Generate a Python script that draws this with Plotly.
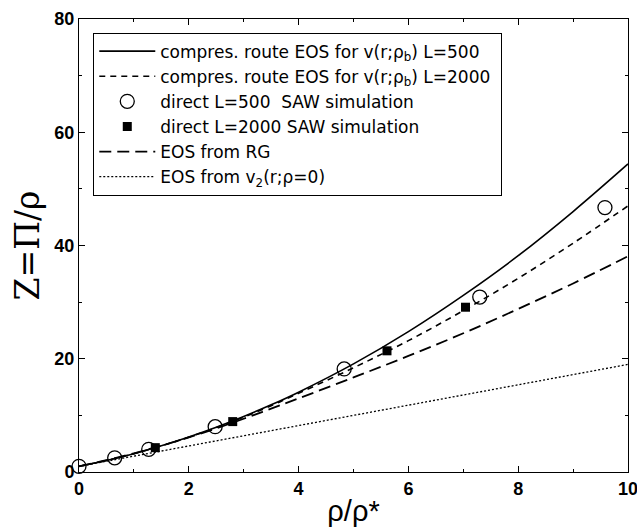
import plotly.graph_objects as go

# curves
rho_grid = [0, 0.5, 1, 1.5, 2, 2.5, 3, 3.5, 4, 5, 6, 7, 8, 9, 10]
z_l500 = [1.0, 2.04, 3.24, 4.62, 6.18, 7.90, 9.80, 11.86, 14.1, 19.1, 24.8, 31.2, 38.2, 46.0, 54.4]
z_l2000 = [1.0, 2.04, 3.24, 4.62, 6.15, 7.85, 9.7, 11.7, 13.9, 18.4, 23.2, 28.5, 34.2, 40.4, 47.0]
z_rg = [1.0, 2.1, 3.3, 4.65, 6.1, 7.7, 9.4, 11.2, 13.0, 16.7, 20.5, 24.5, 28.8, 33.3, 38.1]
rho_v2 = [0, 10]
z_v2 = [1.0, 19.0]

# simulations
rho_saw500 = [0, 0.65, 1.27, 2.48, 4.83, 7.30, 9.58]
z_saw500 = [1.0, 2.5, 4.0, 8.0, 18.2, 30.9, 46.7]
rho_saw2000 = [1.39, 2.80, 5.61, 7.04]
z_saw2000 = [4.3, 8.9, 21.4, 29.1]

names = [
    "compres. route EOS for v(r;ρ<sub>b</sub>) L=500",
    "compres. route EOS for v(r;ρ<sub>b</sub>) L=2000\u00a0",
    "direct L=500\u00a0 SAW simulation",
    "direct L=2000 SAW simulation",
    "EOS from RG",
    "EOS from v<sub>2</sub>(r;ρ=0)",
]

fig = go.Figure()
fig.add_trace(go.Scatter(x=rho_grid, y=z_l500, mode="lines", name=names[0],
                         line=dict(color="black", width=1.6, shape="spline")))
fig.add_trace(go.Scatter(x=rho_grid, y=z_l2000, mode="lines", name=names[1],
                         line=dict(color="black", width=1.6, dash="6px,5px", shape="spline")))
fig.add_trace(go.Scatter(x=rho_saw500, y=z_saw500, mode="markers", name=names[2],
                         cliponaxis=False,
                         marker=dict(symbol="circle-open", size=14, color="black",
                                     line=dict(width=1.3, color="black"))))
fig.add_trace(go.Scatter(x=rho_saw2000, y=z_saw2000, mode="markers", name=names[3],
                         cliponaxis=False,
                         marker=dict(symbol="square", size=9, color="black")))
fig.add_trace(go.Scatter(x=rho_grid, y=z_rg, mode="lines", name=names[4],
                         line=dict(color="black", width=1.8, dash="12px,6px", shape="spline")))
fig.add_trace(go.Scatter(x=rho_v2, y=z_v2, mode="lines", name=names[5],
                         line=dict(color="black", width=1.3, dash="2px,2px")))

axis_common = dict(
    showline=True, linecolor="black", linewidth=1, mirror="allticks",
    ticks="inside", ticklen=6, tickcolor="black", tickwidth=1,
    showgrid=False, zeroline=False, ticklabeloverflow="allow", automargin=False,
    tickfont=dict(family="Liberation Sans", size=18, color="black", weight="bold"),
)

fig.update_xaxes(range=[0, 10], dtick=2, tick0=0,
                 minor=dict(ticks="inside", dtick=1, ticklen=3, tickcolor="black"),
                 title=dict(text="ρ/ρ*", font=dict(family="Liberation Sans", size=29, color="black"),
                            standoff=6),
                 **axis_common)
fig.update_yaxes(range=[0, 80], dtick=20, tick0=0,
                 minor=dict(ticks="inside", dtick=10, ticklen=3, tickcolor="black"),
                 title=dict(text="Z=Π/ρ", font=dict(family="DejaVu Serif", size=33, color="black"),
                            standoff=4),
                 **axis_common)

fig.update_layout(
    width=637, height=527,
    margin=dict(l=79, r=9, t=19, b=55),
    paper_bgcolor="white", plot_bgcolor="white",
    showlegend=True,
    legend=dict(x=0.026, y=0.97, xanchor="left", yanchor="top",
                bgcolor="white", bordercolor="black", borderwidth=1,
                font=dict(family="DejaVu Sans", size=17, color="black"),
                itemwidth=56, tracegroupgap=0, traceorder="normal"),
)

fig.write_html("out.html")
